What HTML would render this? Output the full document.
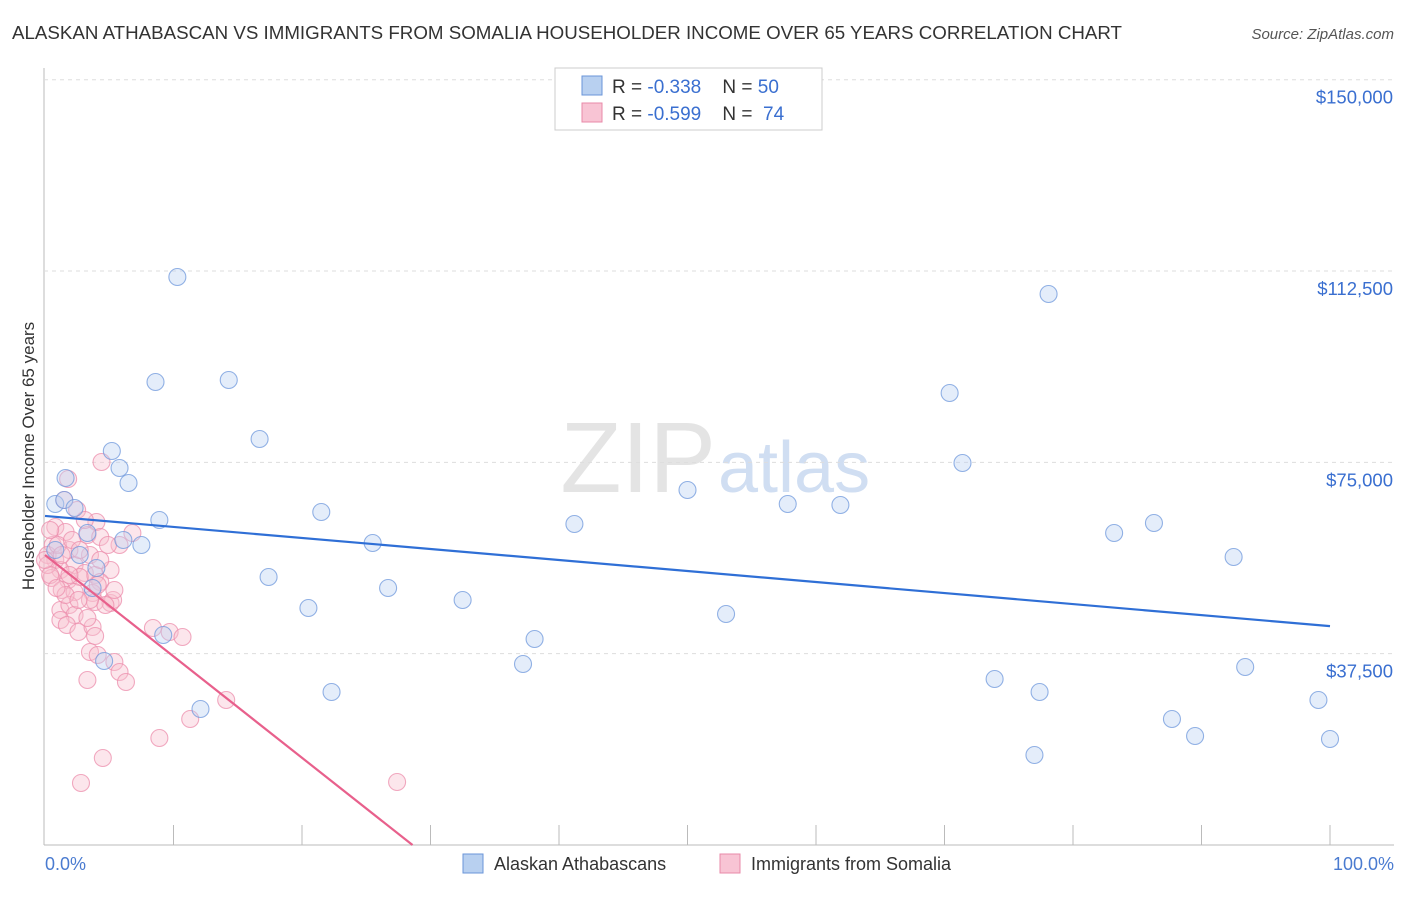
<!DOCTYPE html>
<html><head><meta charset="utf-8"><style>
body{margin:0;background:#fff;font-family:"Liberation Sans",sans-serif}
svg text{font-family:"Liberation Sans",sans-serif;white-space:pre}
</style></head><body>
<svg id="c" width="1406" height="892" xml:space="preserve">
<text x="12" y="39" font-size="18" fill="#333" textLength="1110" lengthAdjust="spacingAndGlyphs">ALASKAN ATHABASCAN VS IMMIGRANTS FROM SOMALIA HOUSEHOLDER INCOME OVER 65 YEARS CORRELATION CHART</text>
<text x="1394" y="39" font-size="15" fill="#555" font-style="italic" text-anchor="end">Source: ZipAtlas.com</text>
<text x="716" y="492" font-size="100" fill="#e4e4e4" text-anchor="end" font-family="Liberation Serif">ZIP</text>
<text x="718" y="492" font-size="72" fill="#d0def2">atlas</text>
<g id="grid"></g><g id="pts"></g><g id="lines"></g>
<text transform="translate(34,456) rotate(-90)" font-size="17" fill="#333" text-anchor="middle">Householder Income Over 65 years</text>
<text x="45" y="870" font-size="18" fill="#4a7bd0">0.0%</text>
<text x="1394" y="870" font-size="18" fill="#4a7bd0" text-anchor="end">100.0%</text>
<g>
<rect x="555" y="68" width="267" height="62" fill="#fff" stroke="#ccc"/>
<rect x="582" y="76" width="20" height="19" fill="#b8d0f0" stroke="#6a95d8"/>
<rect x="582" y="103" width="20" height="19" fill="#f8c4d4" stroke="#e88aa8"/>
<text x="612" y="93" font-size="19" fill="#333">R = <tspan fill="#3a6fd0">-0.338</tspan>    N = <tspan fill="#3a6fd0">50</tspan></text>
<text x="612" y="120" font-size="19" fill="#333">R = <tspan fill="#3a6fd0">-0.599</tspan>    N =  <tspan fill="#3a6fd0">74</tspan></text>
</g>
<g>
<rect x="463" y="854" width="20" height="19" fill="#b8d0f0" stroke="#6a95d8"/>
<text x="494" y="870" font-size="18" fill="#333">Alaskan Athabascans</text>
<rect x="720" y="854" width="20" height="19" fill="#f8c4d4" stroke="#e88aa8"/>
<text x="751" y="870" font-size="18" fill="#333">Immigrants from Somalia</text>
</g>
</svg>
<script>
const yTicks=[37500,75000,112500,150000];
const yTickLabels=["$37,500","$75,000","$112,500","$150,000"];
const xTicks=[10,20,30,40,50,60,70,80,90,100];
const bluePx=[[177,277],[155,382],[229,380],[259,439],[112,451],[119,468],[129,483],[66,478],[55,504],[64,500],[75,508],[160,520],[124,540],[142,545],[87,533],[97,568],[80,555],[93,588],[104,661],[163,635],[200,709],[269,577],[321,512],[309,608],[331,692],[373,543],[388,588],[462,600],[535,639],[523,664],[574,524],[688,490],[726,614],[788,504],[840,505],[950,393],[963,463],[1048,294],[994,679],[1040,692],[1034,755],[1114,533],[1154,523],[1172,719],[1195,736],[1234,557],[1245,667],[1318,700],[1330,739],[55,550]];
const pinkPx=[[101,462],[68,479],[64,500],[77,510],[55,527],[65,532],[96,522],[87,535],[100,537],[133,533],[53,545],[70,550],[90,555],[55,560],[75,565],[60,570],[85,573],[95,575],[110,570],[52,578],[68,580],[80,577],[100,582],[62,590],[75,592],[92,593],[98,585],[60,610],[70,605],[95,602],[110,603],[75,615],[60,620],[67,625],[78,632],[93,627],[95,636],[113,600],[153,628],[170,632],[182,637],[90,652],[98,655],[115,662],[120,672],[126,682],[87,680],[226,700],[190,719],[160,738],[103,758],[81,783],[397,782],[48,555],[48,565],[50,575],[58,545],[45,560],[72,540],[85,520],[120,545],[115,590],[65,595],[105,605],[90,600],[80,550],[56,588],[62,555],[100,560],[78,600],[108,545],[70,575],[50,530],[88,618]];
const blueX=bluePx.map(p=>+((p[0]-45)/12.85).toFixed(1));
const blueY=bluePx.map(p=>Math.round((845-p[1])*196));
const pinkX=pinkPx.map(p=>+((p[0]-45)/12.85).toFixed(1));
const pinkY=pinkPx.map(p=>Math.round((845-p[1])*196));
const blueTrend=[64500,42900];
const pinkTrend=[56840,0];
const pinkTrendEnd=28.6;
const X=v=>45+v*12.85, Y=v=>845-v/196;
const NS="http://www.w3.org/2000/svg";
function mk(t,a,parent){const e=document.createElementNS(NS,t);for(const k in a)e.setAttribute(k,a[k]);document.getElementById(parent).appendChild(e);return e;}
const ax=mk('line',{x1:44,y1:68,x2:44,y2:845,stroke:'#bbb'},'grid');


const bx=mk('line',{x1:44,y1:845,x2:1394,y2:845,stroke:'#bbb'},'grid');


yTicks.forEach((t,i)=>{
 const g=mk('line',{x1:44,y1:Y(t),x2:1394,y2:Y(t),stroke:'#ddd','stroke-dasharray':'4,4'},'grid');
 
 
 const l=mk('text',{x:1393,y:Y(t)+24,'font-size':18.5,fill:'#3a6fd0','text-anchor':'end'},'grid');
 l.textContent=yTickLabels[i];
 
 
});
xTicks.forEach(t=>{
 const k=mk('line',{x1:X(t),y1:825,x2:X(t),y2:845,stroke:'#bbb'},'grid');
 
 
});
function dots(xs,ys,fill,stroke,name){xs.forEach((x,i)=>{
 const c=mk('circle',{cx:X(x),cy:Y(ys[i]),r:8.5,fill:fill,'fill-opacity':0.4,stroke:stroke,'stroke-opacity':0.75,'stroke-width':1.1},'pts');
 
 
});}
dots(pinkX,pinkY,'#f8c0d0','#ec8eac','somalia-point');
dots(blueX,blueY,'#bcd3f2','#6f98dc','athabascan-point');
const bl=mk('line',{x1:X(0),y1:Y(blueTrend[0]),x2:X(100),y2:Y(blueTrend[1]),stroke:'#2f6fd6','stroke-width':2.2},'lines');


const pl=mk('line',{x1:X(0),y1:Y(pinkTrend[0]),x2:X(pinkTrendEnd),y2:Y(pinkTrend[1]),stroke:'#e8608c','stroke-width':2.2},'lines');


</script>
</body></html>
